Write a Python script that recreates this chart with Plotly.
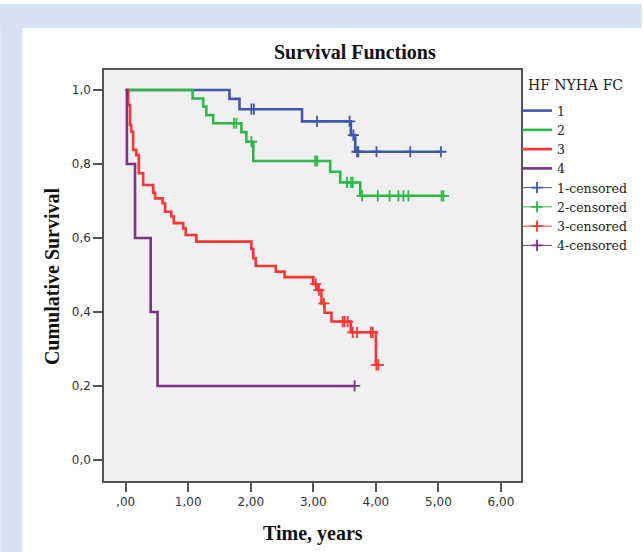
import plotly.graph_objects as go

# ---------------- data ----------------
groups = ["1", "2", "3", "4"]

g1_event_t = [1.66, 1.82, 2.82, 3.60, 3.67]
g1_event_s = [0.976, 0.948, 0.915, 0.878, 0.833]
g1_cens_t = [2.01, 2.05, 3.06, 3.58, 3.64, 3.70, 3.72, 4.01, 4.55, 5.04]

g2_event_t = [1.07, 1.24, 1.29, 1.40, 1.85, 1.93, 2.04, 3.27, 3.43, 3.75]
g2_event_s = [0.977, 0.955, 0.932, 0.910, 0.886, 0.860, 0.808, 0.779, 0.750, 0.714]
g2_cens_t = [1.73, 1.77, 2.01, 3.03, 3.06, 3.54, 3.60, 3.63, 3.78, 4.03, 4.22,
             4.36, 4.44, 4.52, 5.05, 5.08]

g3_event_t = [0.04, 0.07, 0.09, 0.12, 0.17, 0.21, 0.28, 0.44, 0.47, 0.59, 0.63,
              0.73, 0.77, 0.92, 0.96, 1.13, 2.01, 2.04, 2.08, 2.40, 2.54, 3.00,
              3.07, 3.13, 3.18, 3.29, 3.60, 4.00]
g3_event_s = [0.959, 0.905, 0.887, 0.838, 0.824, 0.775, 0.743, 0.722, 0.707, 0.694,
              0.671, 0.658, 0.640, 0.626, 0.608, 0.590, 0.570, 0.545, 0.524, 0.509,
              0.494, 0.475, 0.459, 0.423, 0.398, 0.374, 0.345, 0.257]
g3_cens_t = [3.04, 3.09, 3.17, 3.47, 3.50, 3.55, 3.63, 3.70, 3.92, 3.95, 4.01, 4.04]

g4_event_t = [0.02, 0.15, 0.40, 0.51]
g4_event_s = [0.8, 0.6, 0.4, 0.2]
g4_cens_t = [3.66]

legend_title = "HF NYHA FC"
x_tick_vals = [0, 1, 2, 3, 4, 5, 6]
x_tick_text = [",00", "1,00", "2,00", "3,00", "4,00", "5,00", "6,00"]
y_tick_vals = [0.0, 0.2, 0.4, 0.6, 0.8, 1.0]
y_tick_text = ["0,0", "0,2", "0,4", "0,6", "0,8", "1,0"]

colors = ["#3e58ac", "#2eb848", "#ff3535", "#7e308a"]

events_t = [g1_event_t, g2_event_t, g3_event_t, g4_event_t]
events_s = [g1_event_s, g2_event_s, g3_event_s, g4_event_s]
cens_t = [g1_cens_t, g2_cens_t, g3_cens_t, g4_cens_t]

# ---------------- figure ----------------
W, H = 643, 552
L, R, T, B = 104, 121, 70, 71
pw, ph = W - L - R, H - T - B


def px_x(p):
    return (p - L) / pw


def px_y(p):
    return (H - B - p) / ph


def surv_at(t, et, es):
    s = 1.0
    for a, b in zip(et, es):
        if a <= t:
            s = b
    return s


fig = go.Figure()

for g, c, et, es, ct in zip(groups, colors, events_t, events_s, cens_t):
    t_end = max(et[-1], ct[-1]) if ct else et[-1]
    xs = [0] + et + [t_end]
    ys = [1.0] + es + [es[-1]]
    fig.add_trace(go.Scatter(x=xs, y=ys, mode="lines", name=g,
                             line=dict(color=c, width=2.6, shape="hv"),
                             hoverinfo="skip"))

for g, c, et, es, ct in zip(groups, colors, events_t, events_s, cens_t):
    cx, cy = [], []
    for t in ct:
        cx += [t, None]
        cy += [surv_at(t, et, es), None]
    fig.add_trace(go.Scatter(x=cx, y=cy, mode="lines+markers", name=g + "-censored",
                             connectgaps=False,
                             line=dict(color=c, width=1),
                             marker=dict(symbol="cross-thin", size=8,
                                         line=dict(color=c, width=1.8)),
                             hoverinfo="skip"))

serif = "Liberation Serif, Times New Roman, serif"
legend_serif = "DejaVu Serif, Liberation Serif, serif"
sans = "DejaVu Sans, Verdana, sans-serif"

shapes = [
    dict(type="rect", xref="paper", yref="paper",
         x0=px_x(0), x1=px_x(W), y0=px_y(28), y1=px_y(4),
         fillcolor="#d6e2f3", line=dict(width=0), layer="above"),
    dict(type="rect", xref="paper", yref="paper",
         x0=px_x(0), x1=px_x(22), y0=px_y(H), y1=px_y(4),
         fillcolor="#d6e2f3", line=dict(width=0), layer="above"),
]

annotations = [
    dict(text="<b>Survival Functions</b>", xref="paper", yref="paper",
         x=px_x(356), y=px_y(52), xanchor="center", yanchor="middle",
         showarrow=False, font=dict(family=serif, size=20, color="#111")),
    dict(text="<b>Time, years</b>", xref="paper", yref="paper",
         x=0.5, y=px_y(533), xanchor="center", yanchor="middle",
         showarrow=False, font=dict(family=serif, size=20, color="#111")),
    dict(text="<b>Cumulative Survival</b>", xref="paper", yref="paper",
         x=px_x(52), y=px_y(276), xanchor="center", yanchor="middle",
         textangle=-90, showarrow=False,
         font=dict(family=serif, size=20, color="#111")),
    dict(text=legend_title, xref="paper", yref="paper",
         x=px_x(527), y=px_y(85), xanchor="left", yanchor="middle",
         showarrow=False, font=dict(family=legend_serif, size=14, color="#222")),
]

fig.update_layout(
    width=W, height=H,
    margin=dict(l=L, r=R, t=T, b=B, pad=0),
    paper_bgcolor="white",
    plot_bgcolor="#f0f0f0",
    showlegend=True,
    legend=dict(
        x=px_x(517), y=px_y(96), xanchor="left", yanchor="top",
        bgcolor="rgba(0,0,0,0)", borderwidth=0,
        font=dict(family=legend_serif, size=12.5, color="#222"),
        tracegroupgap=0,
    ),
    shapes=shapes,
    annotations=annotations,
    xaxis=dict(
        range=[-0.346, 6.32], tickvals=x_tick_vals, ticktext=x_tick_text,
        showgrid=False, zeroline=False, showline=True, mirror=True,
        linecolor="#555", linewidth=1.5,
        ticks="outside", ticklen=9, tickwidth=1.5, tickcolor="#555",
        tickfont=dict(family=sans, size=12, color="#333"),
    ),
    yaxis=dict(
        range=[-0.057, 1.054], tickvals=y_tick_vals, ticktext=y_tick_text,
        showgrid=False, zeroline=False, showline=True, mirror=True,
        linecolor="#555", linewidth=1.5,
        ticks="outside", ticklen=9, tickwidth=1.5, tickcolor="#555",
        tickfont=dict(family=sans, size=12, color="#333"),
    ),
)

fig.write_html("out.html",
               config={"displayModeBar": False},
               post_script="document.body.style.margin='0';document.body.style.padding='0';")
